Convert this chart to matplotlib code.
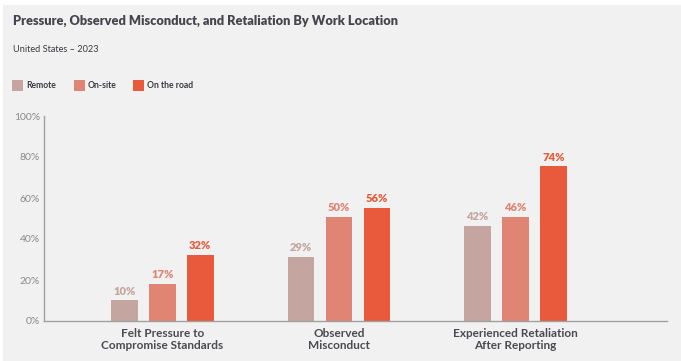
import numpy as np
import matplotlib.pyplot as plt
from matplotlib.patches import Rectangle

plt.rcParams['font.family'] = ['Lato', 'DejaVu Sans']

# Data
categories = ['Felt Pressure to\nCompromise Standards',
              'Observed\nMisconduct',
              'Experienced Retaliation\nAfter Reporting']
series = ['Remote', 'On-site', 'On the road']
labels_pct = {
    'Remote': [10, 29, 42],
    'On-site': [17, 50, 46],
    'On the road': [32, 56, 74],
}
# bar heights as drawn in the picture (they differ slightly from the printed labels)
bar_heights = {
    'Remote': [10.2, 31.4, 46.5],
    'On-site': [18.2, 50.9, 50.9],
    'On the road': [32.3, 55.3, 75.6],
}
colors = {'Remote': '#c4a59f', 'On-site': '#e08474', 'On the road': '#e85a3b'}
yticks = [0, 20, 40, 60, 80, 100]

W, H = 681, 361
fig = plt.figure(figsize=(W / 100, H / 100), dpi=100)
fig.patch.set_facecolor('white')
fig.patches.append(Rectangle((3 / W, 0), 1, 1 - 5 / H, transform=fig.transFigure,
                             facecolor='#f1f1f1', edgecolor='none', zorder=-10))

ax = fig.add_axes([44 / W, 1 - 321 / H, (667 - 44) / W, (321 - 116) / H])
ax.set_facecolor('none')

x = np.arange(len(categories))
width = 0.151
offsets = [-0.215, 0, 0.215]
for s, off in zip(series, offsets):
    bars = ax.bar(x + off, bar_heights[s], width, color=colors[s], label=s, zorder=2)
    for b, v in zip(bars, labels_pct[s]):
        ax.annotate(f'{v}%', (b.get_x() + b.get_width() / 2, b.get_height()),
                    xytext=(0, 2.5), textcoords='offset points',
                    ha='center', va='bottom', fontsize=8, fontweight='heavy',
                    color=colors[s])

ax.set_xlim(-0.67, 2.858)
ax.set_ylim(0, 100)
ax.set_yticks(yticks)
ax.set_yticklabels([f'{t}%' for t in yticks])
ax.tick_params(axis='y', length=0, pad=3, labelsize=7.5, labelcolor='#8a8a8a')
ax.set_xticks(x)
ax.set_xticklabels(categories)
ax.tick_params(axis='x', length=0, pad=5)
for lab in ax.get_xticklabels():
    lab.set_fontsize(8.5)
    lab.set_fontweight('bold')
    lab.set_color('#4a4a52')
    lab.set_linespacing(1.15)

for side in ['top', 'right']:
    ax.spines[side].set_visible(False)
for side in ['left', 'bottom']:
    ax.spines[side].set_color('#a0a0a0')
    ax.spines[side].set_linewidth(1)

# titles
fig.text(13 / W, 1 - 21 / H, 'Pressure, Observed Misconduct, and Retaliation By Work Location',
         fontsize=9.2, fontweight='heavy', color='#45454d', va='center', ha='left')
fig.text(13 / W, 1 - 49 / H, 'United States \u2013 2023', fontsize=6.6,
         color='#3a3a40', va='center', ha='left')

# legend
leg_x = [12, 74, 133]
for s, lx in zip(series, leg_x):
    fig.patches.append(Rectangle((lx / W, 1 - 91 / H), 11 / W, 11 / H,
                                 transform=fig.transFigure, facecolor=colors[s],
                                 edgecolor='none'))
    fig.text((lx + 14) / W, 1 - 85.5 / H, s, fontsize=6.2, fontweight='bold',
             color='#3a3a40', va='center', ha='left')

fig.savefig('out.png', dpi=100, facecolor=fig.get_facecolor())
